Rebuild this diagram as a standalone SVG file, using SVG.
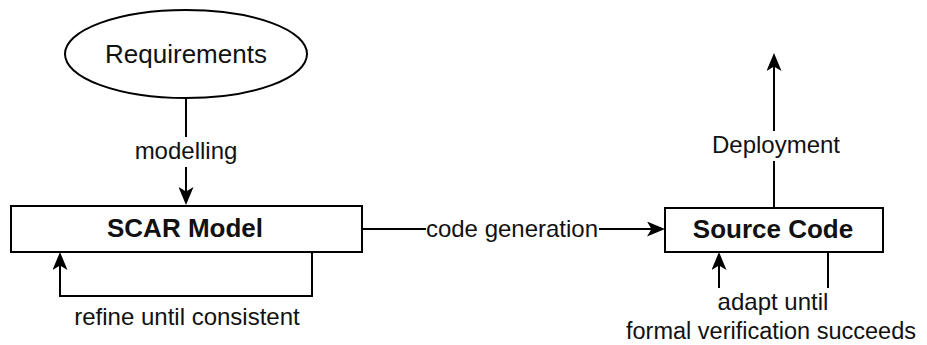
<svg xmlns="http://www.w3.org/2000/svg" width="927" height="345" viewBox="0 0 927 345">
  <style>
    .shape { fill: #ffffff; stroke: #000000; stroke-width: 2; }
    .edge { fill: none; stroke: #000000; stroke-width: 2; }
    .label { font-family: "Liberation Sans", Arial, sans-serif; font-size: 24px; fill: #111111; text-anchor: middle; }
    .big { font-size: 26px; }
    .title { font-family: "Liberation Sans", Arial, sans-serif; font-size: 26px; font-weight: bold; fill: #111111; text-anchor: middle; }
    .bg { fill: #ffffff; stroke: none; }
  </style>
  <defs>
    <marker id="arrow" markerUnits="userSpaceOnUse" markerWidth="18" markerHeight="15" viewBox="0 0 18 15" refX="9" refY="7.5" orient="auto">
      <path d="M0,0 L18,7.5 L0,15 L4.5,7.5 Z" fill="#000000"/>
    </marker>
  </defs>
  <rect width="927" height="345" fill="#ffffff"/>

  <g id="connectors">
    <!-- Requirements to SCAR Model -->
    <path class="edge" d="M186,98 L186,196" marker-end="url(#arrow)"/>
    <rect class="bg" x="130" y="137" width="112" height="30"/>
    <text class="label" x="186" y="159">modelling</text>

    <!-- SCAR Model refinement loop -->
    <path class="edge" d="M312,252 L312,296 L60,296 L60,261" marker-end="url(#arrow)"/>
    <text class="label" x="187" y="325">refine until consistent</text>

    <!-- SCAR Model to Source Code -->
    <path class="edge" d="M362,229 L656,229" marker-end="url(#arrow)"/>
    <rect class="bg" x="426" y="214" width="173" height="30"/>
    <text class="label" x="512" y="237">code generation</text>

    <!-- Source Code deployment -->
    <path class="edge" d="M774,208 L774,62" marker-end="url(#arrow)"/>
    <rect class="bg" x="710" y="131" width="132" height="30"/>
    <text class="label" x="776" y="153">Deployment</text>

    <!-- Source Code verification loop -->
    <path class="edge" d="M828,252 L828,288"/>
    <path class="edge" d="M719,288 L719,261" marker-end="url(#arrow)"/>
    <text class="label" x="773" y="310">adapt until</text>
    <text class="label" x="771" y="339" style="font-size:23.5px">formal verification succeeds</text>
  </g>

  <g id="requirements">
    <ellipse class="shape" cx="186" cy="54" rx="121" ry="44"/>
    <text class="label big" x="186" y="63">Requirements</text>
  </g>

  <g id="scar-model">
    <rect class="shape" x="11" y="206" width="351" height="46"/>
    <text class="title" x="185" y="237">SCAR Model</text>
  </g>

  <g id="source-code">
    <rect class="shape" x="665" y="208" width="218" height="44"/>
    <text class="title" x="773" y="238">Source Code</text>
  </g>
</svg>
